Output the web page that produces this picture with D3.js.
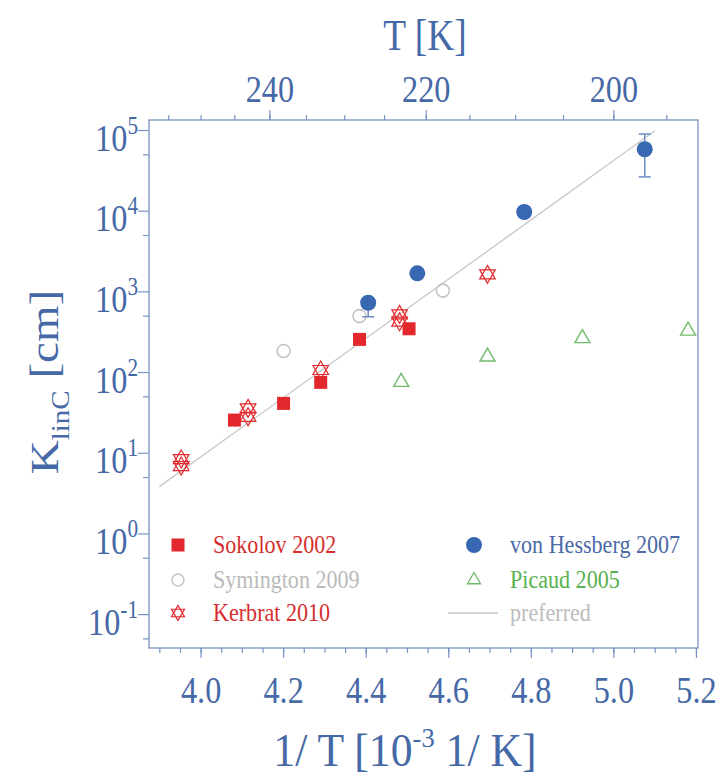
<!DOCTYPE html>
<html>
<head>
<meta charset="utf-8">
<script src="https://cdn.jsdelivr.net/npm/d3@7"></script>
<style>body{margin:0;background:#fff}</style>
</head>
<body>
<svg id="chart"></svg>
<script>
// values (x = 1000/T, y = K_linC in cm)
const sokolovX = [4.082, 4.201, 4.291, 4.385, 4.505];
const sokolovK = [25.4, 40.9, 74.5, 254, 344];
const symingtonX = [4.201, 4.385, 4.587];
const symingtonK = [182, 494, 1023];
const kerbratX = [3.953, 3.953, 4.115, 4.115, 4.291, 4.482, 4.482, 4.695];
const kerbratK = [8.35, 6.84, 35.5, 27.9, 106, 519, 421, 1626];
const hessbergX = [4.406, 4.525, 4.784, 5.076];
const hessbergK = [723, 1674, 9630, 57700];
const hessbergErrLow = [239, 0, 0, 31500];
const hessbergErrHigh = [0, 0, 0, 31500];
const picaudX = [4.486, 4.695, 4.925, 5.181];
const picaudK = [75.2, 155, 262, 325];
const preferredX = [3.90, 5.10];
const preferredK = [3.8, 97000];

const xTicks = [4.0, 4.2, 4.4, 4.6, 4.8, 5.0, 5.2];
const xMinor = d3.range(3.9, 5.21, 0.05);
const tTicks = [240, 220, 200];
const tMinor = d3.range(195, 256, 5);
const yTicks = [1e-1, 1e0, 1e1, 1e2, 1e3, 1e4, 1e5];
const yMinor = [5e-2, 5e-1, 5e0, 5e1, 5e2, 5e3, 5e4];

const W = 721, H = 779;
const plot = {left: 149, right: 698, top: 120, bottom: 648};
const axisCol = "#7893c6", textCol = "#4568a6";
const serif = "'Liberation Serif','Times New Roman',serif";
const SX = 0.85; // the figure's lettering is a little narrow

const svg = d3.select("#chart").attr("width", W).attr("height", H);
svg.append("rect").attr("width", W).attr("height", H).attr("fill", "#fff");

const x = d3.scaleLinear().domain([3.875, 5.205]).range([plot.left, plot.right]);
const y = d3.scaleLog().domain([Math.pow(10, -1.42), Math.pow(10, 5.124)]).range([plot.bottom, plot.top]);

function styleAxis(g) {
  g.select(".domain").remove();
  g.selectAll("line").attr("stroke", axisCol).attr("stroke-width", 1.2);
}
function label(x0, y0, size, anchor, color, rotate, sx) {
  const s = sx == null ? SX : sx;
  const tr = `translate(${x0},${y0})` + (rotate ? ` rotate(-90) scale(1,${s})` : ` scale(${s},1)`);
  return svg.append("text").attr("transform", tr)
    .attr("font-family", serif).attr("font-size", size)
    .attr("text-anchor", anchor).attr("fill", color);
}

// bottom axis
svg.append("g").attr("transform", `translate(0,${plot.bottom})`)
  .call(d3.axisBottom(x).tickValues(xMinor).tickSize(5).tickFormat(""))
  .call(styleAxis);
const gxb = svg.append("g").attr("transform", `translate(0,${plot.bottom})`)
  .call(d3.axisBottom(x).tickValues(xTicks).tickSize(10).tickPadding(18).tickFormat(d3.format(".1f")))
  .call(styleAxis);
gxb.selectAll("text").attr("font-family", serif).attr("font-size", 38)
  .attr("fill", textCol).attr("transform", `scale(${SX},1)`);

// top axis in T [K]
svg.append("g").attr("transform", `translate(0,${plot.top})`)
  .call(d3.axisTop(x).tickValues(tMinor.map(t => 1000 / t)).tickSize(5).tickFormat(""))
  .call(styleAxis);
const gxt = svg.append("g").attr("transform", `translate(0,${plot.top})`)
  .call(d3.axisTop(x).tickValues(tTicks.map(t => 1000 / t)).tickSize(10).tickPadding(8)
    .tickFormat(d => Math.round(1000 / d)))
  .call(styleAxis);
gxt.selectAll("text").attr("font-family", serif).attr("font-size", 38)
  .attr("fill", textCol).attr("transform", `scale(${SX},1)`);

// left axis, log
svg.append("g").attr("transform", `translate(${plot.left},0)`)
  .call(d3.axisLeft(y).tickValues(yMinor).tickSize(6).tickFormat(""))
  .call(styleAxis);
const gy = svg.append("g").attr("transform", `translate(${plot.left},0)`)
  .call(d3.axisLeft(y).tickValues(yTicks).tickSize(11).tickFormat(""))
  .call(styleAxis);
gy.selectAll(".tick text").each(function(d) {
  const t = d3.select(this).text(null)
    .attr("x", -11 / SX).attr("y", 20).attr("dy", null)
    .attr("font-family", serif).attr("font-size", 38)
    .attr("fill", textCol).attr("transform", `scale(${SX},1)`);
  t.append("tspan").text("10");
  t.append("tspan").attr("dy", -17).attr("font-size", 25).text(Math.round(Math.log10(d)));
});

// frame
svg.append("rect")
  .attr("x", plot.left).attr("y", plot.top)
  .attr("width", plot.right - plot.left).attr("height", plot.bottom - plot.top)
  .attr("fill", "none").attr("stroke", axisCol).attr("stroke-width", 1.3);

// axis titles
const tb = label(405, 766, 46, "middle", textCol, false, 0.95);
tb.append("tspan").text("1/ T [10");
tb.append("tspan").attr("dy", -19).attr("font-size", 28).text("-3");
tb.append("tspan").attr("dy", 19).text(" 1/ K]");
label(425, 50, 44, "middle", textCol, false).text("T [K]");
const ty = label(58, 382, 47, "middle", textCol, true);
ty.append("tspan").text("K");
ty.append("tspan").attr("dy", 13).attr("font-size", 29).text("linC");
ty.append("tspan").attr("dy", -13).text(" [cm]");

// marker shapes
function hexagram(r) {
  const tri = a0 => d3.range(3).map(k => {
    const a = (a0 + k * 120) * Math.PI / 180;
    return [r * Math.cos(a), r * Math.sin(a)];
  });
  const p = pts => "M" + pts.map(q => q.join(",")).join("L") + "Z";
  return p(tri(-90)) + p(tri(90));
}
function triangle(s) {
  const h = s * Math.sqrt(3) / 2;
  return `M0,${-h * 2 / 3}L${s / 2},${h / 3}L${-s / 2},${h / 3}Z`;
}

const red = "#e2282c", gray = "#c4c4c4", blue = "#3868b2", green = "#72bb6a";

// preferred line
svg.append("path")
  .datum(d3.zip(preferredX, preferredK))
  .attr("d", d3.line().x(d => x(d[0])).y(d => y(d[1])))
  .attr("fill", "none").attr("stroke", "#c8c8c8").attr("stroke-width", 1.3);

// Picaud
svg.append("g").selectAll("path").data(d3.zip(picaudX, picaudK)).join("path")
  .attr("transform", d => `translate(${x(d[0])},${y(d[1])})`)
  .attr("d", triangle(15)).attr("fill", "none").attr("stroke", green).attr("stroke-width", 1.4);

// Symington
svg.append("g").selectAll("circle").data(d3.zip(symingtonX, symingtonK)).join("circle")
  .attr("cx", d => x(d[0])).attr("cy", d => y(d[1])).attr("r", 6.5)
  .attr("fill", "none").attr("stroke", gray).attr("stroke-width", 1.6);

// Sokolov
svg.append("g").selectAll("rect").data(d3.zip(sokolovX, sokolovK)).join("rect")
  .attr("x", d => x(d[0]) - 6.5).attr("y", d => y(d[1]) - 6.5)
  .attr("width", 13).attr("height", 13).attr("fill", red);

// Kerbrat
svg.append("g").selectAll("path").data(d3.zip(kerbratX, kerbratK)).join("path")
  .attr("transform", d => `translate(${x(d[0])},${y(d[1])})`)
  .attr("d", hexagram(9)).attr("fill", "none").attr("stroke", red).attr("stroke-width", 1.2);

// von Hessberg with error bars
const hb = d3.zip(hessbergX, hessbergK, hessbergErrLow, hessbergErrHigh);
const eb = svg.append("g").attr("stroke", "#6d8cc4").attr("stroke-width", 1.5);
hb.forEach(d => {
  const cx = x(d[0]), yc = y(d[1]);
  if (d[2] > 0) {
    const y0 = y(d[1] - d[2]);
    eb.append("line").attr("x1", cx).attr("x2", cx).attr("y1", yc).attr("y2", y0);
    eb.append("line").attr("x1", cx - 6).attr("x2", cx + 6).attr("y1", y0).attr("y2", y0);
  }
  if (d[3] > 0) {
    const y1 = y(d[1] + d[3]);
    eb.append("line").attr("x1", cx).attr("x2", cx).attr("y1", yc).attr("y2", y1);
    eb.append("line").attr("x1", cx - 6).attr("x2", cx + 6).attr("y1", y1).attr("y2", y1);
  }
});
svg.append("g").selectAll("circle").data(hb).join("circle")
  .attr("cx", d => x(d[0])).attr("cy", d => y(d[1])).attr("r", 8).attr("fill", blue);

// legend
const legendLeft = [
  {name: "Sokolov 2002", color: "#d42e2e", mark: "square"},
  {name: "Symington 2009", color: "#bababa", mark: "circle"},
  {name: "Kerbrat 2010", color: "#d42e2e", mark: "star"}
];
const legendRight = [
  {name: "von Hessberg 2007", color: "#4a6aa6", mark: "dot"},
  {name: "Picaud 2005", color: "#58b050", mark: "triangle"},
  {name: "preferred", color: "#bdbdbd", mark: "line"}
];
const rowY = [545, 580, 613];
function legendColumn(items, mx, tx) {
  items.forEach((it, i) => {
    const cy = rowY[i];
    const g = svg.append("g").attr("transform", `translate(${mx},${cy})`);
    if (it.mark === "square") g.append("rect").attr("x", -6.5).attr("y", -6.5).attr("width", 13).attr("height", 13).attr("fill", red);
    if (it.mark === "circle") g.append("circle").attr("r", 6).attr("fill", "none").attr("stroke", gray).attr("stroke-width", 1.5);
    if (it.mark === "star") g.append("path").attr("d", hexagram(7.5)).attr("fill", "none").attr("stroke", red).attr("stroke-width", 1.2);
    if (it.mark === "dot") g.append("circle").attr("r", 8).attr("fill", blue);
    if (it.mark === "triangle") g.append("path").attr("d", triangle(13)).attr("fill", "none").attr("stroke", green).attr("stroke-width", 1.3);
    if (it.mark === "line") g.append("line").attr("x1", -26).attr("x2", 24).attr("stroke", "#c8c8c8").attr("stroke-width", 1.3);
    label(tx, cy + 8, 26, "start", it.color, false).text(it.name);
  });
}
legendColumn(legendLeft, 178, 213);
legendColumn(legendRight, 474, 510);
</script>
</body>
</html>
